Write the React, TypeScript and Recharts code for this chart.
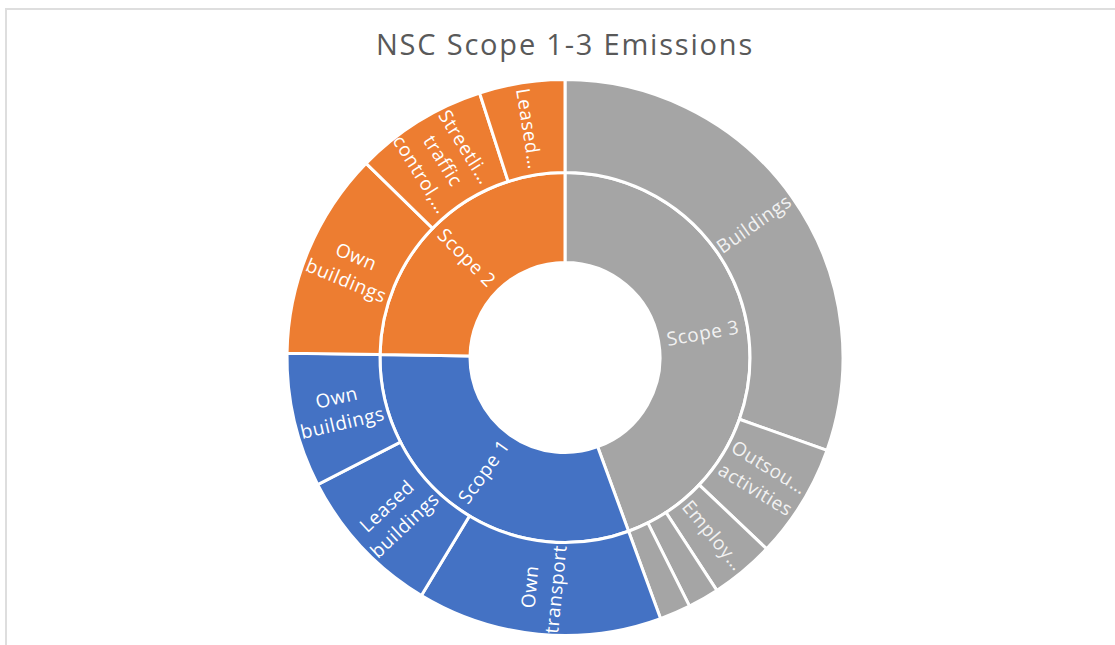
import { PieChart, Pie, Cell } from "recharts";

// Inner ring: scopes, listed clockwise from 12 o'clock
const scopeNames = ["Scope 3", "Scope 1", "Scope 2"];
const scopeColors = ["#A5A5A5", "#4472C4", "#ED7D31"];

// Outer ring: sources, same clockwise order (labels as Excel truncates them)
const itemLabels = [
  "Buildings",
  "Outsou…\nactivities",
  "Employ…",
  "",
  "",
  "Own\ntransport",
  "Leased\nbuildings",
  "Own\nbuildings",
  "Own\nbuildings",
  "Streetli…\ntraffic\ncontrol,…",
  "Leased…",
];
const itemScope = [0, 0, 0, 0, 0, 1, 1, 1, 2, 2, 2];
const itemValues = [1095, 240, 134, 65, 65, 512, 317, 281, 434, 278, 179];

const RAD = Math.PI / 180;
const CX = 560;
const CY = 349.5;
const HOLE = 95;
const MID = 185;
const OUTER = 278;

const scopeData = scopeNames.map((name, i) => ({
  name,
  value: itemValues.reduce((s, v, j) => (itemScope[j] === i ? s + v : s), 0),
}));

const itemData = itemLabels.map((label, i) => ({
  name: label,
  value: itemValues[i],
  scope: itemScope[i],
}));

function makeLabel(texts: string[], rIn: number, rOut: number, colorOf: (i: number) => string) {
  return (props: any) => {
    const { cx, cy, midAngle, index } = props;
    const text = texts[index];
    if (!text) return null;
    const r = (rIn + rOut) / 2;
    const x = cx + r * Math.cos(-midAngle * RAD);
    const y = cy + r * Math.sin(-midAngle * RAD);
    // angle measured clockwise from the top
    const clock = (((90 - midAngle) % 360) + 360) % 360;
    const rot = clock < 180 ? clock - 90 : clock - 270;
    const lines = text.split("\n");
    const lh = 26;
    return (
      <text
        x={x}
        y={y}
        textAnchor="middle"
        fill={colorOf(index)}
        fontSize={19}
        letterSpacing={0.6}
        fontFamily="'Open Sans', sans-serif"
        transform={`rotate(${rot}, ${x}, ${y})`}
      >
        {lines.map((ln, k) => (
          <tspan key={k} x={x} y={y + (k - (lines.length - 1) / 2) * lh} dy="0.35em">
            {ln}
          </tspan>
        ))}
      </text>
    );
  };
}

const labelColor = (scope: number) => (scope === 0 ? "#F2F2F2" : "#FFFFFF");

export default function App() {
  return (
    <>
      <style>{"body{margin:0;overflow:hidden}"}</style>
      <div
        style={{
          position: "absolute",
          left: 5,
          top: 8,
          width: 1110,
          height: 637,
          boxSizing: "border-box",
          borderTop: "2px solid #dedede",
          borderLeft: "2px solid #dedede",
          background: "#fff",
        }}
      >
        <div style={{ position: "absolute", left: -2, top: -2 }}>
          <PieChart width={1110} height={637} margin={{ top: 0, right: 0, bottom: 0, left: 0 }}>
            <Pie
              data={scopeData}
              dataKey="value"
              nameKey="name"
              cx={CX}
              cy={CY}
              innerRadius={HOLE}
              outerRadius={MID}
              startAngle={90}
              endAngle={-270}
              stroke="#FFFFFF"
              strokeWidth={3}
              labelLine={false}
              label={makeLabel(scopeNames, HOLE, MID, (i) => labelColor(i))}
              isAnimationActive={false}
            >
              {scopeData.map((d, i) => (
                <Cell key={d.name} fill={scopeColors[i]} />
              ))}
            </Pie>
            <Pie
              data={itemData}
              dataKey="value"
              nameKey="name"
              cx={CX}
              cy={CY}
              innerRadius={MID}
              outerRadius={OUTER}
              startAngle={90}
              endAngle={-270}
              stroke="#FFFFFF"
              strokeWidth={3}
              labelLine={false}
              label={makeLabel(itemLabels, MID, OUTER, (i) => labelColor(itemScope[i]))}
              isAnimationActive={false}
            >
              {itemData.map((d, i) => (
                <Cell key={i} fill={scopeColors[d.scope]} />
              ))}
            </Pie>
          </PieChart>
        </div>
        <svg
          width={1108}
          height={80}
          style={{ position: "absolute", left: 0, top: 0 }}
        >
          <text
            x={558}
            y={45}
            textAnchor="middle"
            fill="#595959"
            fontSize={29}
            letterSpacing={1.8}
            fontFamily="'Open Sans', sans-serif"
          >
            NSC Scope 1-3 Emissions
          </text>
        </svg>
      </div>
    </>
  );
}
